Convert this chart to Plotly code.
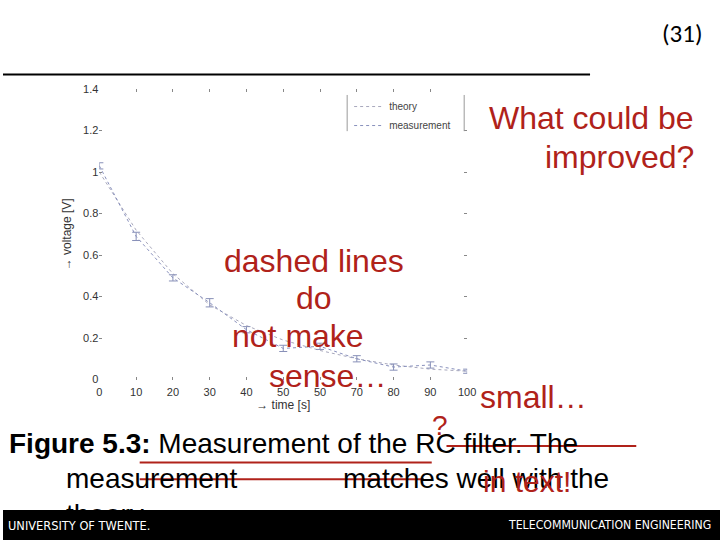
import plotly.graph_objects as go

# ---- data ----
time_s = [0, 10, 20, 30, 40, 50, 60, 70, 80, 90, 100]
theory_v = [1.00, 0.72, 0.51, 0.36, 0.26, 0.19, 0.14, 0.10, 0.07, 0.05, 0.04]
measured_v = [1.03, 0.69, 0.49, 0.37, 0.24, 0.15, 0.16, 0.10, 0.06, 0.07, 0.04]
measured_err = [0.015, 0.02, 0.015, 0.02, 0.015, 0.015, 0.015, 0.015, 0.015, 0.015, 0.01]
x_ticks = [0, 10, 20, 30, 40, 50, 60, 70, 80, 90, 100]
x_tick_text = ["0", "10", "20", "30", "40", "50", "50", "70", "80", "90", "100"]
y_ticks = [0, 0.2, 0.4, 0.6, 0.8, 1.0, 1.2, 1.4]
y_tick_text = ["0", "0.2", "0.4", "0.6", "0.8", "1", "1.2", "1.4"]

W, H = 720, 540
RED = "#b0221a"
SANS = "Liberation Sans, Arial, sans-serif"
NARROW = "Liberation Sans Narrow, Arial Narrow, DejaVu Sans Condensed, sans-serif"


def px(x):
    return x / W


def py(y):
    return 1 - y / H


fig = go.Figure()
fig.add_trace(go.Scatter(
    x=time_s, y=theory_v, mode="lines", name="theory",
    line=dict(color="#a8a8bc", width=1, dash="dot"),
))
fig.add_trace(go.Scatter(
    x=time_s, y=measured_v, mode="lines", name="measurement",
    line=dict(color="#8890bc", width=1, dash="dot"),
    error_y=dict(type="data", array=measured_err, visible=True,
                 color="#8890b8", thickness=1, width=4),
))

axis_font = dict(family=SANS, size=11, color="#333333")
fig.update_layout(
    width=W, height=H,
    margin=dict(l=0, r=0, t=0, b=0),
    paper_bgcolor="white", plot_bgcolor="white",
    showlegend=True,
    legend=dict(x=px(352), y=py(88), xanchor="left", yanchor="top",
                bgcolor="rgba(0,0,0,0)", borderwidth=0,
                font=dict(family=SANS, size=10, color="#444444"),
                itemwidth=30, tracegroupgap=0),
    xaxis=dict(domain=[px(98), px(472)], range=[0, 100],
               tickvals=x_ticks, ticktext=x_tick_text,
               ticks="inside", ticklen=3, tickcolor="#888888",
               mirror="ticks", showline=False, showgrid=False, zeroline=False,
               tickfont=axis_font, ticklabelstandoff=4,
               title=dict(text="→ time [s]", font=dict(family=SANS, size=12, color="#333333"),
                          standoff=2)),
    yaxis=dict(domain=[py(382), py(85)], range=[0, 1.4],
               tickvals=y_ticks, ticktext=y_tick_text,
               ticks="inside", ticklen=3, tickcolor="#888888",
               mirror="ticks", showline=False, showgrid=False, zeroline=False,
               tickfont=axis_font,
               title=dict(text="→ voltage [V]", font=dict(family=SANS, size=12, color="#333333"),
                          standoff=8)),
)

shapes = []
# header rule
shapes.append(dict(type="line", xref="paper", yref="paper",
                   x0=0, x1=px(597), y0=py(70), y1=py(70),
                   line=dict(color="black", width=2)))
# legend box side lines
for xx in (350, 469):
    shapes.append(dict(type="line", xref="paper", yref="paper",
                       x0=px(xx), x1=px(xx), y0=py(91), y1=py(128),
                       line=dict(color="#999999", width=1)))
# red annotation lines
shapes.append(dict(type="line", xref="paper", yref="paper",
                   x0=px(139), x1=px(436), y0=py(467), y1=py(467),
                   line=dict(color=RED, width=2)))
shapes.append(dict(type="line", xref="paper", yref="paper",
                   x0=px(451), x1=px(644), y0=py(450), y1=py(450),
                   line=dict(color=RED, width=2)))
shapes.append(dict(type="line", xref="paper", yref="paper",
                   x0=px(139), x1=px(428), y0=py(484), y1=py(484),
                   line=dict(color=RED, width=2)))
fig.update_layout(shapes=shapes)

ann = []


def text(x, y, s, size, color="black", family=SANS, xanchor="left", **kw):
    ann.append(dict(x=px(x), y=py(y), xref="paper", yref="paper",
                    text=s, showarrow=False, xanchor=xanchor, yanchor="middle",
                    font=dict(family=family, size=size, color=color), **kw))


# header
text(714, 28, "(31)", 25, xanchor="right", family="Carlito, Open Sans, sans-serif")
# red comments
text(705, 115, "What could be", 32, RED, xanchor="right")
text(705, 154, "improved?", 32, RED, xanchor="right")
text(316, 261, "dashed lines", 32, RED, xanchor="center")
text(316, 299, "do", 32, RED, xanchor="center")
text(300, 338, "not make", 32, RED, xanchor="center")
text(330, 378, "sense…", 32, RED, xanchor="center")
text(483, 400, "small…", 32, RED)
# caption
text(4, 447, "<b>Figure 5.3:</b> Measurement of the RC filter. The", 28)
text(62, 483, "measurement", 28)
text(344, 483, "matches well with the", 28)
text(62, 520, "theory", 28)
text(444, 429, "?", 28, RED, xanchor="center")
text(533, 486, "in text!", 30, RED, xanchor="center")
# footer bar (covers the caption overflow)
ann.append(dict(x=0, y=py(515), xref="paper", yref="paper", xanchor="left", yanchor="top",
                text=" ", showarrow=False, width=W + 20, height=45, bgcolor="black",
                borderpad=0, borderwidth=0))
text(3, 531, "UNIVERSITY OF TWENTE.", 12.7, "white", family=NARROW)
text(722, 531, "TELECOMMUNICATION ENGINEERING", 12.2, "white", xanchor="right", family=NARROW)
fig.update_layout(annotations=ann)

fig.write_html(
    "out.html",
    config={"displayModeBar": False},
    post_script="document.body.style.margin='0';document.body.style.overflow='hidden';",
)
